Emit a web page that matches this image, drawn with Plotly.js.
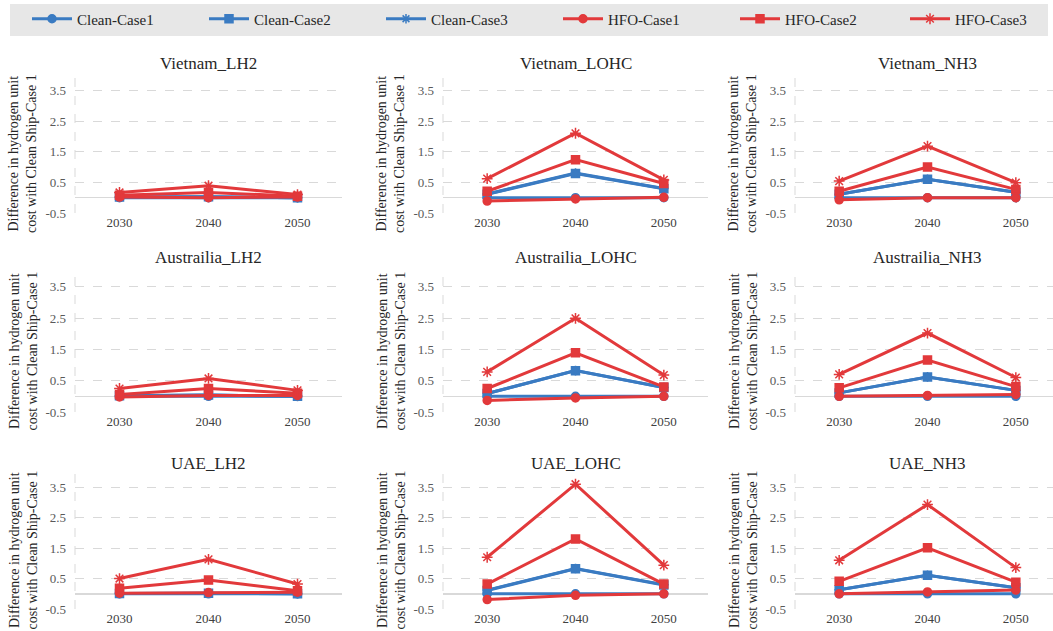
<!DOCTYPE html>
<html>
<head>
<meta charset="utf-8">
<script src="https://cdn.plot.ly/plotly-3.0.1.min.js"></script>
<style>html,body{margin:0;padding:0;overflow:hidden;background:#fff}#chart{width:1053px;height:631px}</style>
</head>
<body>
<div id="chart"></div>
<script>
const years = ['2030', '2040', '2050'];
const panelNames = ['Vietnam_LH2', 'Vietnam_LOHC', 'Vietnam_NH3',
                    'Austrailia_LH2', 'Austrailia_LOHC', 'Austrailia_NH3',
                    'UAE_LH2', 'UAE_LOHC', 'UAE_NH3'];
const seriesNames = ['Clean-Case1', 'Clean-Case2', 'Clean-Case3', 'HFO-Case1', 'HFO-Case2', 'HFO-Case3'];
const yTickVals = [-0.5, 0.5, 1.5, 2.5, 3.5];
const yTickText = ['-0.5', '0.5', '1.5', '2.5', '3.5'];
const yTitle = 'Difference in hydrogen unit<br>cost with Clean Ship-Case 1';

// values per panel (same order as panelNames), each [2030, 2040, 2050]
const cleanCase1 = [
  [0, 0, 0], [0, 0, 0], [0, 0, 0],
  [0, 0, 0], [0, 0, 0], [0, 0, 0],
  [0, 0, 0], [0, 0, 0], [0, 0, 0]
];
const cleanCase2 = [
  [0.02, 0.03, 0.0], [0.11, 0.79, 0.29], [0.11, 0.60, 0.18],
  [0.02, 0.04, 0.0], [0.09, 0.82, 0.28], [0.11, 0.62, 0.19],
  [0.01, 0.02, 0.0], [0.11, 0.82, 0.29], [0.13, 0.61, 0.20]
];
const cleanCase3 = [
  [0.02, 0.03, 0.0], [0.12, 0.80, 0.30], [0.11, 0.60, 0.18],
  [0.02, 0.04, 0.0], [0.09, 0.82, 0.28], [0.11, 0.62, 0.19],
  [0.01, 0.02, 0.0], [0.12, 0.83, 0.30], [0.13, 0.61, 0.20]
];
const hfoCase1 = [
  [0.02, 0.0, 0.02], [-0.11, -0.04, 0.01], [-0.07, 0.0, 0.0],
  [-0.02, 0.03, 0.03], [-0.13, -0.05, 0.0], [0.0, 0.03, 0.06],
  [0.02, 0.04, 0.05], [-0.19, -0.05, 0.0], [0.0, 0.06, 0.12]
];
const hfoCase2 = [
  [0.08, 0.17, 0.05], [0.21, 1.24, 0.46], [0.21, 1.00, 0.27],
  [0.06, 0.25, 0.10], [0.25, 1.39, 0.30], [0.27, 1.16, 0.31],
  [0.18, 0.45, 0.10], [0.32, 1.80, 0.32], [0.41, 1.51, 0.38]
];
const hfoCase3 = [
  [0.17, 0.39, 0.10], [0.62, 2.10, 0.58], [0.54, 1.68, 0.49],
  [0.25, 0.57, 0.19], [0.78, 2.49, 0.68], [0.70, 2.02, 0.60],
  [0.50, 1.13, 0.32], [1.20, 3.60, 0.94], [1.10, 2.93, 0.86]
];

const seriesData = [cleanCase1, cleanCase2, cleanCase3, hfoCase1, hfoCase2, hfoCase3];
const BLUE = '#3a7bc2', RED = '#e2393b';
const seriesStyle = [
  {color: BLUE, symbol: 'circle', size: 8},
  {color: BLUE, symbol: 'square', size: 8},
  {color: BLUE, symbol: 'asterisk-open', size: 8},
  {color: RED, symbol: 'circle', size: 8},
  {color: RED, symbol: 'square', size: 8},
  {color: RED, symbol: 'asterisk-open', size: 9}
];

const W = 1053, H = 631;
const colPx = [[75, 342], [443, 708], [795, 1060]];
const rowPx = [[75, 213], [271, 412], [472, 609]];
const titleY = [63, 258, 463];
const FONT = '"Liberation Serif", "Times New Roman", Times, serif';
const legendFont = {family: FONT, size: 15, color: '#262626'};

const traces = [];
const layout = {
  width: W, height: H,
  margin: {l: 0, r: 0, t: 0, b: 0},
  paper_bgcolor: '#fff', plot_bgcolor: '#fff',
  font: {family: FONT, color: '#595959'},
  showlegend: true,
  legend: {
    orientation: 'h', x: 27 / W, y: 1 - 19 / H, xanchor: 'left', yanchor: 'middle',
    bgcolor: 'rgba(0,0,0,0)', font: legendFont,
    entrywidth: 122, entrywidthmode: 'pixels', itemwidth: 40
  },
  legend2: {
    orientation: 'h', x: 905 / W, y: 1 - 19 / H, xanchor: 'left', yanchor: 'middle',
    bgcolor: 'rgba(0,0,0,0)', font: legendFont, itemwidth: 40
  },
  shapes: [
    {type: 'rect', xref: 'paper', yref: 'paper', x0: 10 / W, x1: 1048 / W, y0: 1 - 36 / H, y1: 1 - 4 / H,
     fillcolor: '#e7e7e7', line: {width: 0}, layer: 'below'}
  ],
  annotations: []
};

for (let p = 0; p < 9; p++) {
  const r = Math.floor(p / 3), c = p % 3;
  const idx = p === 0 ? '' : String(p + 1);
  const xa = 'xaxis' + idx, ya = 'yaxis' + idx;
  const cp = colPx[c], rp = rowPx[r];
  const x1px = Math.min(cp[1], W);
  const catW = (cp[1] - cp[0]) / 3;
  const xMax = 2.5 - (cp[1] - x1px) / catW;
  layout[xa] = {
    domain: [cp[0] / W, x1px / W], anchor: 'y' + idx,
    type: 'category', range: [-0.5, xMax], showgrid: false, zeroline: false, showline: false,
    ticks: '', tickfont: {family: FONT, size: 13, color: '#404040'}, fixedrange: true
  };
  layout[ya] = {
    domain: [1 - rp[1] / H, 1 - rp[0] / H], anchor: 'x' + idx,
    range: [-0.5, 4], tickvals: yTickVals, ticktext: yTickText,
    showgrid: true, gridcolor: '#d9d9d9', griddash: 'dash', gridwidth: 1,
    zeroline: true, zerolinecolor: '#d9d9d9', zerolinewidth: 1.5,
    showline: false, ticks: '', ticklabelstandoff: 8,
    tickfont: {family: FONT, size: 13, color: '#595959'}, fixedrange: true
  };
  // dashed left border line
  layout.shapes.push({type: 'line', xref: 'x' + idx + ' domain', yref: 'y' + idx + ' domain',
    x0: 0, x1: 0, y0: 0, y1: 1, line: {color: '#d9d9d9', width: 1, dash: 'dash'}});
  // panel title
  layout.annotations.push({text: panelNames[p], xref: 'paper', yref: 'paper',
    x: ((cp[0] + cp[1]) / 2) / W, y: 1 - titleY[r] / H, xanchor: 'center', yanchor: 'middle',
    showarrow: false, font: {family: FONT, size: 17, color: '#262626'}});
  // y title
  layout.annotations.push({text: yTitle, xref: 'paper', yref: 'paper',
    x: (cp[0] - 52) / W, y: 1 - ((rp[0] + rp[1]) / 2 + 10) / H, xanchor: 'center', yanchor: 'middle',
    textangle: -90, showarrow: false, font: {family: FONT, size: 14, color: '#262626'}});

  for (let s = 0; s < 6; s++) {
    const st = seriesStyle[s];
    traces.push({
      type: 'scatter', mode: 'lines+markers', name: seriesNames[s],
      x: years, y: seriesData[s][p], xaxis: 'x' + idx, yaxis: 'y' + idx,
      legendgroup: seriesNames[s], showlegend: p === 0,
      legend: s === 5 ? 'legend2' : 'legend',
      line: {color: st.color, width: 3},
      marker: {color: st.color, symbol: st.symbol, size: st.size, line: {color: st.color, width: 1.5}},
      hoverinfo: 'skip'
    });
  }
}

Plotly.newPlot('chart', traces, layout, {displayModeBar: false, staticPlot: true});
</script>
</body>
</html>
